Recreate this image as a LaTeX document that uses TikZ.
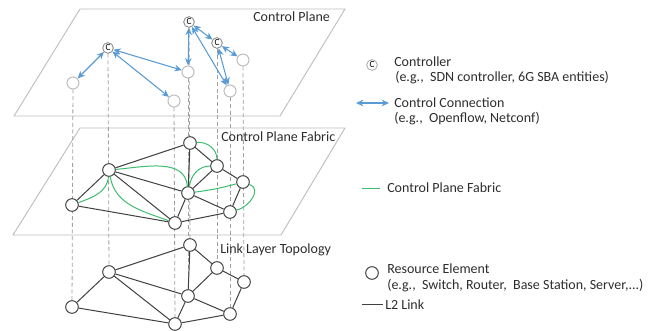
\documentclass[tikz,border=0pt]{standalone}
\usepackage{fontspec}
\setmainfont{Carlito}
\usetikzlibrary{arrows.meta,backgrounds}
\definecolor{ctrlblue}{RGB}{91,155,213}
\definecolor{fabgreen}{RGB}{60,190,110}
\definecolor{linkgray}{RGB}{64,64,64}
\definecolor{planegray}{RGB}{190,190,190}
\definecolor{dashgray}{RGB}{160,160,160}
\definecolor{txtgray}{RGB}{45,45,45}
\begin{document}
\begin{tikzpicture}[x=0.75pt,y=-0.75pt,
  font=\fontsize{10.5}{12}\selectfont, text=txtgray,
  re/.style={circle,draw=linkgray,fill=white,line width=0.75pt,minimum size=9.5pt,inner sep=0pt},
  ghost/.style={circle,draw=planegray,fill=white,line width=0.75pt,minimum size=9pt,inner sep=0pt},
  ctrl/.style={circle,draw=gray,fill=white,line width=0.6pt,minimum size=8pt,inner sep=0pt,
    font=\fontsize{7}{7}\selectfont,text=black},
  l2/.style={draw=linkgray,line width=0.75pt},
  fab/.style={draw=fabgreen,line width=0.75pt},
  cc/.style={draw=ctrlblue,line width=0.8pt,
    {Stealth[length=5.5pt,width=5pt]}-{Stealth[length=5.5pt,width=5pt]}},
  plane/.style={draw=planegray,line width=0.7pt},
  proj/.style={draw=dashgray,line width=0.6pt,dash pattern=on 3pt off 2pt},
  lbl/.style={anchor=west,inner sep=0pt}
]
\useasboundingbox (0,0) rectangle (650,331);

% ---------- control plane (top) ----------
\node[ctrl] (c1) at (108,48) {C};
\node[ctrl] (c2) at (189,22) {C};
\node[ctrl] (c3) at (217,43) {C};
\node[ghost] (tA) at (73,83) {};
\node[ghost] (tE) at (243,60) {};
\node[ghost] (tF) at (188,72) {};
\node[ghost] (tG) at (230,91) {};
\node[ghost] (tH) at (174,101) {};

% ---------- control plane fabric (middle) ----------
\node[re] (mA) at (72,205) {};
\node[re] (mB) at (109,170) {};
\node[re] (mC) at (190,143) {};
\node[re] (mD) at (217,166) {};
\node[re] (mE) at (243,182) {};
\node[re] (mF) at (188,193) {};
\node[re] (mG) at (230,212) {};
\node[re] (mH) at (175,223) {};

% ---------- link layer topology (bottom) ----------
\node[re] (lA) at (72,307) {};
\node[re] (lB) at (109,272) {};
\node[re] (lC) at (190,245) {};
\node[re] (lD) at (217,268) {};
\node[re] (lE) at (244,282) {};
\node[re] (lF) at (188,296) {};
\node[re] (lG) at (230,314) {};
\node[re] (lH) at (175,324) {};

% planes and vertical projections behind everything
\begin{pgfonlayer}{background}
  \path[plane] (80,9) -- (345,9) -- (280,116) -- (14,116) -- cycle;
  \path[plane] (80,128) -- (345,128) -- (281,235) -- (13,235) -- cycle;
  \path[proj] (tA) -- (lA);
  \path[proj] (c1) -- (lB);
  \path[proj] (c2) -- (lC);
  \path[proj] (c3) -- (lD);
  \path[proj] (tE) -- (lE);
  \path[proj] (tF) -- (lF);
  \path[proj] (tG) -- (lG);
  \path[proj] (tH) -- (lH);
\end{pgfonlayer}

% control connections
\path[cc] (c1) -- (tA);
\path[cc] (c1) -- (tF);
\path[cc] (c1) -- (tH);
\path[cc] (c2) -- (tF);
\path[cc] (c2) -- (c3);
\path[cc] (c2) -- (tG);
\path[cc] (c3) -- (tG);
\path[cc] (c3) -- (tE);

% L2 links in the fabric and link layers
\foreach \a/\b in {A/B,A/H,B/C,B/F,B/H,C/F,C/D,D/F,D/E,F/H,F/G,H/G,E/G}{
  \path[l2] (m\a) -- (m\b);
  \path[l2] (l\a) -- (l\b);
}

% control plane fabric paths
\path[fab] (mA) to[out=20,in=-95] (mB);
\path[fab] (mB) to[out=-80,in=160] (mH);
\path[fab] (mB) to[out=5,in=95] (mF);
\path[fab] (mC) to[out=5,in=90] (mD);
\path[fab] (mF) to[out=80,in=180] (mD);
\path[fab] (mF) to[bend right=4] (mE);
\path[fab] (mE) to[out=-20,in=15,looseness=1.2] (mG);

% layer titles
\node[lbl] (t1) at (253,17) {Control Plane};
\node[lbl] (t2) at (221,137) {Control Plane Fabric};
\node[lbl] (t3) at (220,250) {Link Layer Topology};

% legend
\node[ctrl,draw=gray!70] (kc) at (372,65) {C};
\node[lbl] (kc1) at (394,62) {Controller};
\node[lbl] (kc2) at (395,78) {(e.g.,\ \ SDN controller, 6G SBA entities)};

\coordinate (ka1) at (356,103);
\coordinate (ka2) at (389,103);
\path[cc] (ka1) -- (ka2);
\node[lbl] (ka3) at (394,103) {Control Connection};
\node[lbl] (ka4) at (394,119) {(e.g.,\ \ Openflow, Netconf)};

\coordinate (kf1) at (362,189);
\coordinate (kf2) at (380,189);
\path[fab] (kf1) -- (kf2);
\node[lbl] (kf3) at (387,188) {Control Plane Fabric};

\node[re] (kr) at (372,273) {};
\node[lbl] (kr1) at (387,269) {Resource Element};
\node[lbl] (kr2) at (387,286) {(e.g.,\ \ Switch, Router,\ \ Base Station, Server,...)};

\coordinate (kl1) at (362,305);
\coordinate (kl2) at (383,305);
\path[l2] (kl1) -- (kl2);
\node[lbl] (kl3) at (385,305) {L2 Link};
\end{tikzpicture}
\end{document}
